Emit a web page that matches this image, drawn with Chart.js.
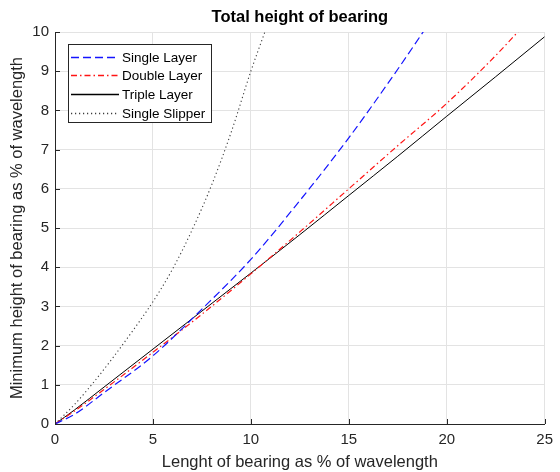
<!DOCTYPE html>
<html>
<head>
<meta charset="utf-8">
<script src="https://cdn.jsdelivr.net/npm/chart.js@4/dist/chart.umd.min.js"></script>
<style>
  html, body { margin: 0; padding: 0; background: #ffffff; }
  #wrap { width: 560px; height: 472px; position: relative; }
</style>
</head>
<body>
<div id="wrap"><canvas id="c" width="560" height="472"></canvas></div>
<script>
// ---- data ----
const chartTitle = "Total height of bearing";
const xAxisTitle = "Lenght of bearing as % of wavelength";
const yAxisTitle = "Minimum height of bearing as % of wavelength";
const seriesNames = ["Single Layer", "Double Layer", "Triple Layer", "Single Slipper"];

const singleLayerX = [0, 1, 2.5, 5, 7.5, 10, 12.5, 15, 17.5, 19.2];
const singleLayerY = [0, 0.25, 0.8, 1.74, 2.93, 4.2, 5.7, 7.3, 9.05, 10.3];

const doubleLayerX = [0, 1, 2.5, 5, 7.5, 10, 12.5, 15, 17.5, 20, 22.5, 24];
const doubleLayerY = [0, 0.33, 0.88, 1.83, 2.8, 3.83, 4.9, 6.0, 7.1, 8.18, 9.4, 10.2];

const tripleLayerX = [0, 1, 2.5, 5, 7.5, 10, 12.5, 15, 17.5, 20, 22.5, 25];
const tripleLayerY = [0, 0.36, 0.94, 1.91, 2.88, 3.85, 4.83, 5.83, 6.83, 7.85, 8.86, 9.88];

const singleSlipperX = [0, 1, 2, 3, 4, 5, 6, 7, 8, 9, 10, 10.75, 11];
const singleSlipperY = [0, 0.5, 1.08, 1.72, 2.4, 3.12, 3.95, 4.95, 6.1, 7.45, 9.0, 10.05, 10.4];

const xMin = 0, xMax = 25, xStep = 5;
const yMin = 0, yMax = 10, yStep = 1;

// styles
const seriesColors = ['#1414ff', '#ff1414', '#000000', '#3c3c3c'];
const seriesDash = [[8, 4], [6, 3, 1.5, 3], [], [1.2, 2.8]];
const seriesWidth = [1.2, 1.2, 1, 1.1];

function pts(xs, ys) { return xs.map((x, i) => ({ x: x, y: ys[i] })); }

const FONT = "'Liberation Sans', Arial, Helvetica, sans-serif";
const AXIS_COLOR = "#262626";
const GRID_COLOR = "#e3e3e3";

// inward tick marks (MATLAB style), drawn through the scales
const tickPlugin = {
  id: 'inTicks',
  afterDatasetsDraw(chart) {
    const ctx = chart.ctx, a = chart.chartArea;
    const xs = chart.scales.x, ys = chart.scales.y;
    ctx.save();
    ctx.strokeStyle = AXIS_COLOR;
    ctx.lineWidth = 1;
    ctx.beginPath();
    xs.ticks.forEach(t => {
      const px = Math.round(xs.getPixelForValue(t.value)) + 0.5;
      ctx.moveTo(px, a.bottom); ctx.lineTo(px, a.bottom - 5);
    });
    ys.ticks.forEach(t => {
      const py = Math.round(ys.getPixelForValue(t.value)) + 0.5;
      ctx.moveTo(a.left, py); ctx.lineTo(a.left + 5, py);
    });
    ctx.stroke();
    ctx.restore();
  }
};

// title centred over the plot area
const titlePlugin = {
  id: 'plotTitle',
  afterDraw(chart) {
    const ctx = chart.ctx, a = chart.chartArea;
    ctx.save();
    ctx.font = "bold 16.5px " + FONT;
    ctx.fillStyle = "#000000";
    ctx.textAlign = 'center';
    ctx.textBaseline = 'middle';
    ctx.fillText(chartTitle, (a.left + a.right) / 2, 17);
    ctx.restore();
  }
};

// legend box inside the plot (upper-left)
const legendPlugin = {
  id: 'inLegend',
  afterDraw(chart) {
    const ctx = chart.ctx, a = chart.chartArea;
    const bx = Math.round(a.left + 12.5), by = Math.round(a.top + 12), bw = 143, bh = 78;
    ctx.save();
    ctx.fillStyle = "#ffffff";
    ctx.fillRect(bx, by, bw, bh);
    ctx.strokeStyle = AXIS_COLOR;
    ctx.lineWidth = 1;
    ctx.strokeRect(bx + 0.5, by + 0.5, bw, bh);
    ctx.font = "13.5px " + FONT;
    ctx.textBaseline = 'middle';
    ctx.textAlign = 'left';
    for (let i = 0; i < seriesNames.length; i++) {
      const cy = Math.round(by + 12.7 + i * 18.7) + 0.5;
      ctx.save();
      ctx.beginPath();
      ctx.strokeStyle = seriesColors[i];
      ctx.lineWidth = 1.3;
      ctx.setLineDash(seriesDash[i]);
      ctx.moveTo(bx + 3, cy);
      ctx.lineTo(bx + 51, cy);
      ctx.stroke();
      ctx.restore();
      ctx.fillStyle = "#000000";
      ctx.fillText(seriesNames[i], bx + 54, cy + 0.5);
    }
    ctx.restore();
  }
};

const common = { pointRadius: 0, pointHoverRadius: 0, fill: false, cubicInterpolationMode: 'monotone' };
const xsList = [singleLayerX, doubleLayerX, tripleLayerX, singleSlipperX];
const ysList = [singleLayerY, doubleLayerY, tripleLayerY, singleSlipperY];

new Chart(document.getElementById('c'), {
  type: 'line',
  data: {
    datasets: seriesNames.map((name, i) => Object.assign({
      label: name,
      data: pts(xsList[i], ysList[i]),
      borderColor: seriesColors[i],
      borderWidth: seriesWidth[i],
      borderDash: seriesDash[i]
    }, common))
  },
  options: {
    responsive: false,
    animation: false,
    devicePixelRatio: 1,
    layout: { padding: { top: 32, right: 9, left: 0, bottom: 0 } },
    plugins: {
      legend: { display: false },
      title: { display: false },
      tooltip: { enabled: false }
    },
    elements: { line: { tension: 0 } },
    scales: {
      x: {
        type: 'linear', min: xMin, max: xMax,
        ticks: { stepSize: xStep, color: AXIS_COLOR, font: { family: FONT, size: 15 }, padding: 7, maxRotation: 0 },
        grid: { color: GRID_COLOR, drawTicks: false },
        border: { color: AXIS_COLOR, width: 1 },
        title: { display: true, text: xAxisTitle, color: AXIS_COLOR, font: { family: FONT, size: 16.5 }, padding: { top: 0, bottom: 0 } },
        afterFit(s) { s.height = 48; }
      },
      y: {
        type: 'linear', min: yMin, max: yMax,
        ticks: { stepSize: yStep, color: AXIS_COLOR, font: { family: FONT, size: 15 }, padding: 6 },
        grid: { color: GRID_COLOR, drawTicks: false },
        border: { color: AXIS_COLOR, width: 1 },
        title: { display: true, text: yAxisTitle, color: AXIS_COLOR, font: { family: FONT, size: 16.5 }, padding: { top: 8, bottom: 0 } },
        afterFit(s) { s.width = 55; }
      }
    }
  },
  plugins: [tickPlugin, titlePlugin, legendPlugin]
});
</script>
</body>
</html>
